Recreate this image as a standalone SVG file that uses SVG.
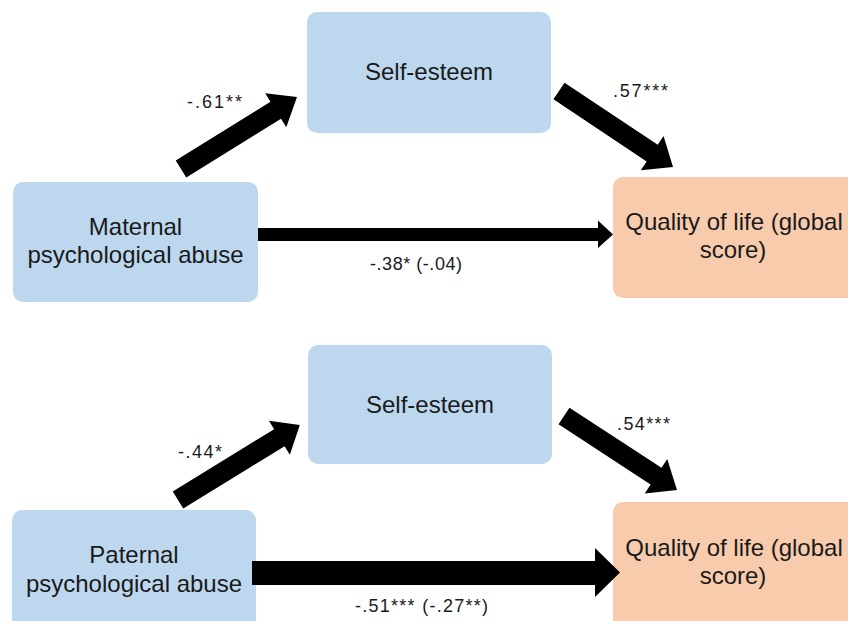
<svg xmlns="http://www.w3.org/2000/svg" width="848" height="621" viewBox="0 0 848 621">
<style>
.blue{fill:#BDD7EE}
.orange{fill:#F8CBAD}
.nt{font-family:"Liberation Sans",Arial,sans-serif;font-size:24px;fill:#1a1a1a;text-anchor:middle}
.lb{font-family:"Liberation Sans",Arial,sans-serif;font-size:18px;fill:#1a1a1a}
.ar{fill:#000}
</style>
<rect width="848" height="621" fill="#fff"/>
<g id="self-esteem-1">
<rect class="blue" x="307" y="12" width="244" height="121" rx="10"/>
<text class="nt" x="429" y="80">Self-esteem</text>
</g>
<g id="maternal">
<rect class="blue" x="13" y="182" width="245" height="120" rx="10"/>
<text class="nt" x="135.5" y="235">Maternal</text>
<text class="nt" x="135.5" y="263">psychological abuse</text>
</g>
<g id="qol-1">
<rect class="orange" x="613" y="177" width="245" height="121" rx="10"/>
<text class="nt" x="734" y="230">Quality of life (global</text>
<text class="nt" x="733" y="258">score)</text>
</g>
<g id="self-esteem-2">
<rect class="blue" x="308" y="345" width="244" height="119" rx="10"/>
<text class="nt" x="430" y="413">Self-esteem</text>
</g>
<g id="paternal">
<rect class="blue" x="12" y="510" width="244" height="125" rx="10"/>
<text class="nt" x="134" y="563">Paternal</text>
<text class="nt" x="134" y="592">psychological abuse</text>
</g>
<g id="qol-2">
<rect class="orange" x="613" y="502" width="245" height="130" rx="10"/>
<text class="nt" x="734" y="556">Quality of life (global</text>
<text class="nt" x="733" y="584">score)</text>
</g>
<g id="connectors">
<polygon class="ar" transform="translate(181,169) rotate(-31.83)" points="0,-10 111.5,-10 111.5,-20 136.5,0 111.5,20 111.5,10 0,10"/>
<polygon class="ar" transform="translate(559,91) rotate(33.69)" points="0,-10 112,-10 112,-20.5 137,0 112,20.5 112,10 0,10"/>
<polygon class="ar" points="258,228 598,228 598,220.5 613,234.5 598,248 598,241 258,241"/>
<polygon class="ar" transform="translate(178,500) rotate(-31.58)" points="0,-10 119,-10 119,-20 143,0 119,20 119,10 0,10"/>
<polygon class="ar" transform="translate(564,416) rotate(33.2)" points="0,-10 110,-10 110,-20.5 135,0 110,20.5 110,10 0,10"/>
<polygon class="ar" points="252,561 595,561 595,548 620,572.5 595,597 595,585 252,585"/>
</g>
<g id="labels">
<text class="lb" x="187" y="108" textLength="55" lengthAdjust="spacing">-.61**</text>
<text class="lb" x="613" y="97" textLength="55" lengthAdjust="spacing">.57***</text>
<text class="lb" x="370" y="270" textLength="92" lengthAdjust="spacing">-.38* (-.04)</text>
<text class="lb" x="178" y="458" textLength="44" lengthAdjust="spacing">-.44*</text>
<text class="lb" x="617" y="430" textLength="53" lengthAdjust="spacing">.54***</text>
<text class="lb" x="355" y="612" textLength="133" lengthAdjust="spacing">-.51*** (-.27**)</text>
</g>
</svg>
